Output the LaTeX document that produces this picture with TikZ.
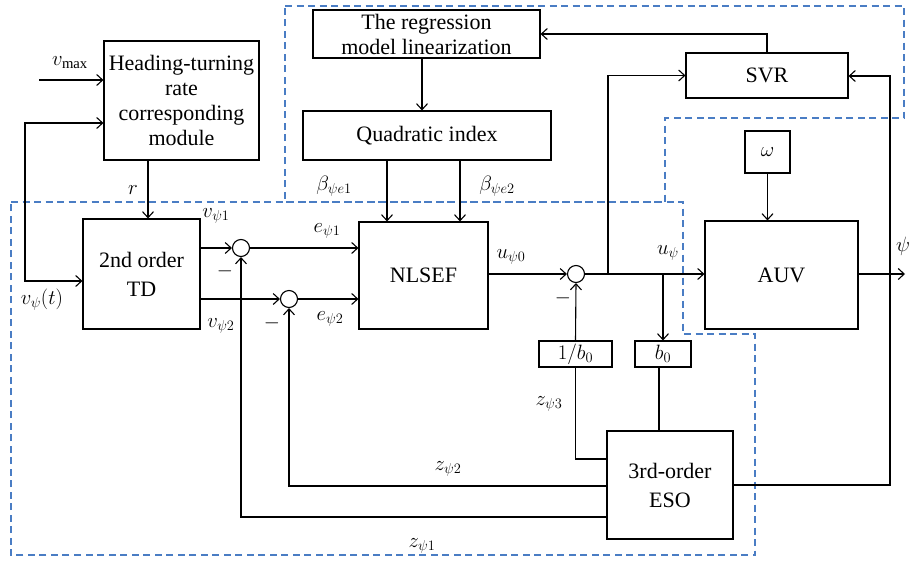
\documentclass[tikz,border=0pt]{standalone}
\usepackage{fontspec}
\setmainfont{Liberation Serif}
\usetikzlibrary{arrows.meta,calc}
\definecolor{dashblue}{RGB}{74,125,196}
\begin{document}
\begin{tikzpicture}[x=1pt,y=-1pt,
 every node/.style={font=\fontsize{20}{25}\selectfont},
 blk/.style={draw,line width=1.1pt,inner sep=0pt,align=center},
 txt/.style={font=\fontsize{22}{25}\selectfont},
 wide/.style={font=\fontsize{22}{29}\selectfont},
 sumc/.style={draw,circle,line width=1.1pt,minimum size=17pt,inner sep=0pt},
 wire/.style={line width=1.1pt},
 arr/.style={wire,-{Straight Barb[length=6pt,width=11pt]}},
 arrboth/.style={wire,{Straight Barb[length=6pt,width=11pt]}-{Straight Barb[length=6pt,width=11pt]}},
 region/.style={draw=dashblue,line width=1.2pt,dash pattern=on 7pt off 4.5pt},
 lbl/.style={inner sep=0pt,font=\fontsize{21}{25}\selectfont}]
\useasboundingbox (0,0) rectangle (910,560);

% dashed regions
\draw[region] (285,6) -- (904,6) -- (904,118) -- (665,118) -- (665,202) -- (285,202) -- cycle;
\draw[region] (11,202) -- (683,202) -- (683,334) -- (755,334) -- (755,555) -- (11,555) -- cycle;

% blocks
\node[blk,txt,minimum width=155pt,minimum height=119pt] (head) at (181.5,100.5) {Heading-turning\\rate\\corresponding\\module};
\node[blk,txt,minimum width=227pt,minimum height=48pt] (reg) at (426.5,34) {The regression\\model linearization};
\node[blk,txt,minimum width=248pt,minimum height=49pt] (quad) at (427,135.5) {Quadratic index};
\node[blk,txt,minimum width=162pt,minimum height=45pt] (svr) at (767,75.5) {SVR};
\node[blk,minimum width=45pt,minimum height=42pt] (omega) at (767.5,152) {$\omega$};
\node[blk,txt,minimum width=153pt,minimum height=108pt] (auv) at (781.5,275) {AUV};
\node[blk,wide,minimum width=117pt,minimum height=110pt] (td) at (141.5,274) {2nd order\\TD};
\node[blk,txt,minimum width=129pt,minimum height=107pt] (nlsef) at (423.5,275.5) {NLSEF};
\node[blk,minimum width=73pt,minimum height=26pt] (ib0) at (575.5,354) {$1/b_0$};
\node[blk,minimum width=56pt,minimum height=26pt] (b0) at (663,354) {$b_0$};
\node[blk,wide,minimum width=126pt,minimum height=108pt] (eso) at (670,485) {3rd-order\\ESO};

% summing junctions
\node[sumc] (s1) at (241,248) {};
\node[sumc] (s2) at (289,299) {};
\node[sumc] (s3) at (576,274) {};

% helper coordinates
\coordinate (vin) at (39,80);
\coordinate (va) at (25,123);
\coordinate (vb) at (25,281);
\coordinate (rx) at (148,0);
\coordinate (rq) at (422,0);
\coordinate (bq1) at (387,0);
\coordinate (bq2) at (460,0);
\coordinate (o1) at (0,248);
\coordinate (o2) at (0,299);
\coordinate (j1) at (608,274);
\coordinate (j2) at (663,274);
\coordinate (bx) at (659,0);
\coordinate (z3) at (0,459);
\coordinate (z2) at (0,486);
\coordinate (z1) at (0,517);
\coordinate (yout) at (905,274);
\coordinate (px) at (890,274);
\coordinate (ptop) at (890,76);
\coordinate (pbot) at (890,485);

% connectors
\draw[arr] (vin) -- (vin -| head.west);
\draw[arrboth] (va -| head.west) -- (va) -- (vb) -- (vb -| td.west);
\draw[arr] (rx |- head.south) -- (rx |- td.north);
\draw[arr] (rq |- reg.south) -- (rq |- quad.north);
\draw[arr] (bq1 |- quad.south) -- (bq1 |- nlsef.north);
\draw[arr] (bq2 |- quad.south) -- (bq2 |- nlsef.north);
\draw[arr] (svr.north) |- (reg.east);
\draw[arr] (td.east |- o1) -- (s1.west);
\draw[arr] (td.east |- o2) -- (s2.west);
\draw[arr] (s1.east) -- (s1.east -| nlsef.west);
\draw[arr] (s2.east) -- (s2.east -| nlsef.west);
\draw[arr] (s3 -| nlsef.east) -- (s3.west);
\draw[arr] (s3.east) -- (s3 -| auv.west);
\draw[arr] (j1) |- (svr.west);
\draw[arr] (j2) -- (b0.north);
\draw[wire] (bx |- b0.south) -- (bx |- eso.north);
\draw[arr] (ib0.north) -- (s3.south);
\draw[wire] (ib0.south) |- (z3 -| eso.west);
\draw[arr] (z2 -| eso.west) -| (s2.south);
\draw[arr] (z1 -| eso.west) -| (s1.south);
\draw[arr] (auv.east |- yout) -- (yout);
\draw[arr] (px) -- (ptop) -- (ptop -| svr.east);
\draw[wire] (px) -- (pbot) -- (pbot -| eso.east);
\draw[arr] (omega.south) -- (omega.south |- auv.north);

% labels
\node[lbl] (lvmax) at (70,63) {$v_{\mathrm{max}}$};
\node[lbl] (lr) at (133,190) {$r$};
\node[lbl] (lvt) at (42,300) {$v_{\psi}(t)$};
\node[lbl] (lv1) at (216,216) {$v_{\psi1}$};
\node[lbl] (lv2) at (221,326) {$v_{\psi2}$};
\node[lbl] (le1) at (327,231) {$e_{\psi1}$};
\node[lbl] (le2) at (330,319) {$e_{\psi2}$};
\node[lbl] (lb1) at (334,186) {$\beta_{\psi e1}$};
\node[lbl] (lb2) at (497,186) {$\beta_{\psi e2}$};
\node[lbl] (lu0) at (511,257) {$u_{\psi0}$};
\node[lbl] (lu) at (668,253) {$u_{\psi}$};
\node[lbl] (lpsi) at (903,246) {$\psi$};
\node[lbl] (m1) at (225,271) {$-$};
\node[lbl] (m2) at (272,323) {$-$};
\node[lbl] (m3) at (563,298) {$-$};
\node[lbl] (lz3) at (549,404) {$z_{\psi3}$};
\node[lbl] (lz2) at (448,469) {$z_{\psi2}$};
\node[lbl] (lz1) at (422,546) {$z_{\psi1}$};
\end{tikzpicture}
\end{document}
